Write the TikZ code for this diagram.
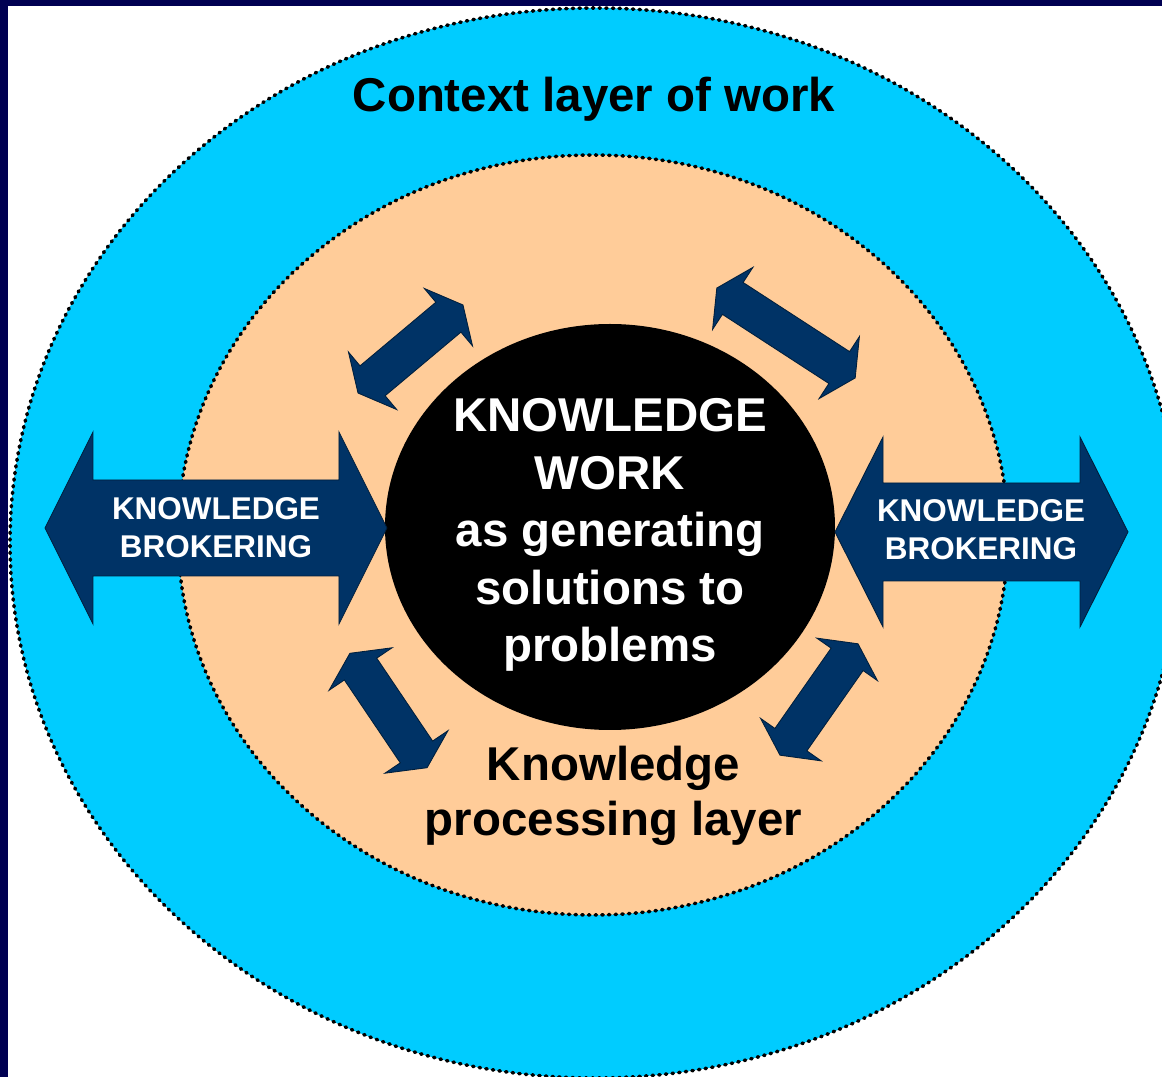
\documentclass[tikz,border=0pt]{standalone}
\usepackage{fontspec}
\setmainfont{Liberation Sans}

\definecolor{frameblue}{RGB}{0,0,82}
\definecolor{contextcyan}{RGB}{0,204,255}
\definecolor{processpeach}{RGB}{255,204,153}
\definecolor{arrowblue}{RGB}{0,51,102}

% double block arrow: centre, angle, length, shaft width, head width, head length
\newcommand{\dbarrow}[6]{%
  \path[blockarrow, shift={#1}, rotate=#2]
    ({-#3/2},0) -- ({-#3/2+#6},{#5/2}) -- ({-#3/2+#6},{#4/2}) -- ({#3/2-#6},{#4/2})
    -- ({#3/2-#6},{#5/2}) -- ({#3/2},0) -- ({#3/2-#6},{-#5/2}) -- ({#3/2-#6},{-#4/2})
    -- ({-#3/2+#6},{-#4/2}) -- ({-#3/2+#6},{-#5/2}) -- cycle;}

\begin{document}
\begin{tikzpicture}[
    layer/.style={draw=black, line width=2pt, dash pattern=on 0.8pt off 3pt, line cap=round},
    blockarrow/.style={fill=arrowblue, draw=arrowblue!60!black, line width=0.5pt},
    big text/.style={font=\fontsize{27}{32.7}\selectfont\bfseries, align=center},
    broker text/.style={text=white, font=\fontsize{17.9}{21.6}\selectfont\bfseries, align=center}]

  \useasboundingbox (-12.20,-11.00) rectangle (11.04,10.54);
  \clip (-12.20,-11.00) rectangle (11.04,10.54);
  \fill[white] (-12.20,-11.00) rectangle (11.04,10.54);
  \fill[frameblue] (-12.20,10.42) rectangle (11.04,10.54);
  \fill[frameblue] (-12.20,-11.00) rectangle (-12.04,10.54);

  % layers
  \path[layer, fill=contextcyan] (-0.30,-0.32) ellipse [x radius=11.70, y radius=10.70];
  \path[layer, fill=processpeach] (-0.34,-0.16) ellipse [x radius=8.30, y radius=7.60];
  \fill[black] (0,0) ellipse [x radius=4.50, y radius=4.06];

  % arrows
  \dbarrow{(-7.88,-0.02)}{0}{6.84}{1.92}{3.84}{0.96}
  \dbarrow{(7.43,-0.10)}{0}{5.86}{1.96}{3.80}{0.96}
  \dbarrow{(-3.99,3.56)}{40}{2.74}{0.78}{1.50}{0.38}
  \dbarrow{(3.52,3.88)}{-33}{3.30}{0.76}{1.48}{0.38}
  \dbarrow{(-4.43,-3.67)}{-56}{2.76}{0.78}{1.52}{0.38}
  \dbarrow{(4.18,-3.45)}{55}{2.72}{0.78}{1.48}{0.38}

  % texts
  \node[big text, anchor=base] (context) at (-0.32,8.30) {Context layer of work};
  \node[big text, text=white] (core) at (0,-0.16)
    {KNOWLEDGE\\WORK\\as generating\\solutions to\\problems};
  \node[big text, font=\fontsize{27}{31.3}\selectfont\bfseries] (process) at (0.07,-5.38)
    {Knowledge\\processing layer};
  \node[broker text] (brokerL) at (-7.88,-0.02) {KNOWLEDGE\\BROKERING};
  \node[broker text] (brokerR) at (7.42,-0.05) {KNOWLEDGE\\BROKERING};

\end{tikzpicture}
\end{document}
